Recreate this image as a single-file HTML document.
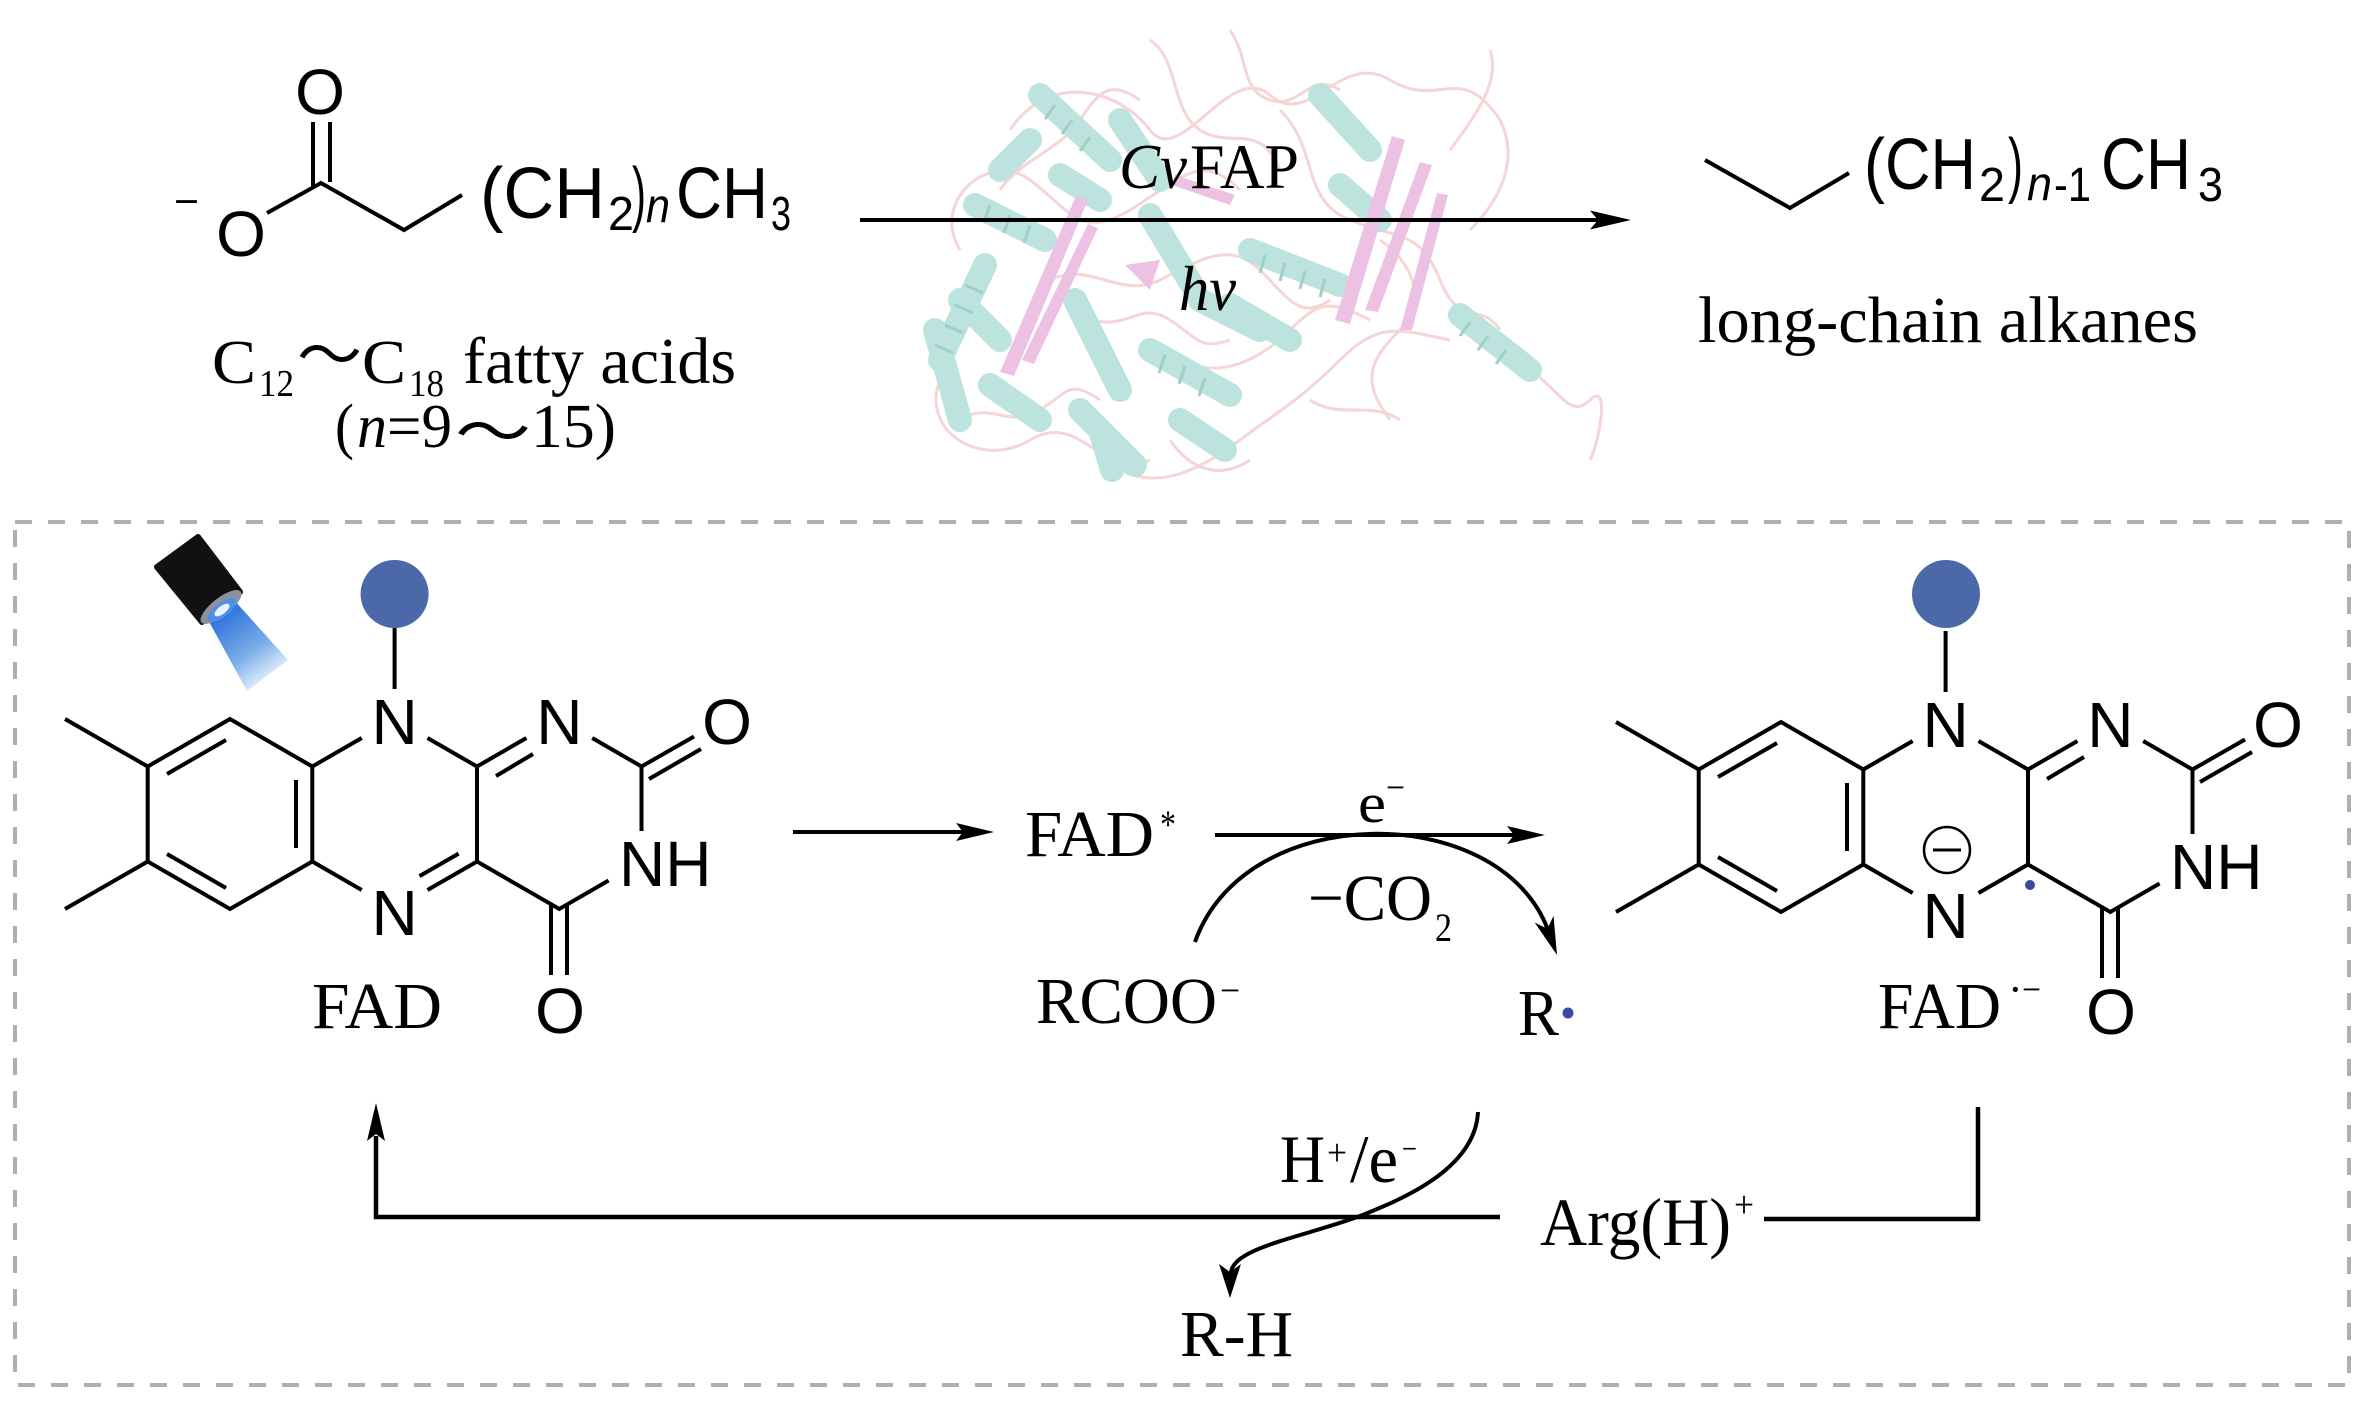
<!DOCTYPE html>
<html><head><meta charset="utf-8">
<style>
html,body{margin:0;padding:0;background:#fff;}
svg{display:block;}
.s{font-family:"Liberation Sans",Arial,sans-serif;}
.t{font-family:"Liberation Serif","Times New Roman",serif;}
.c{font-family:"Liberation Serif","Noto Sans CJK SC",serif;}
</style></head><body>
<svg width="2362" height="1401" viewBox="0 0 2362 1401" xmlns="http://www.w3.org/2000/svg">
<defs>
<linearGradient id="beam" gradientUnits="userSpaceOnUse" x1="220" y1="612" x2="268" y2="680">
<stop offset="0" stop-color="#2a6fd8"/>
<stop offset="0.6" stop-color="#79aee9"/>
<stop offset="1" stop-color="#e4f0fc"/>
</linearGradient>
</defs>
<rect width="2362" height="1401" fill="#fff"/>

<!-- protein cartoon -->
<g opacity="0.72">
<g fill="none" stroke="#f2c6c6" stroke-width="3">
<path d="M1010,130 C1050,70 1120,90 1150,130 S1230,60 1270,95 S1340,50 1390,80 S1460,60 1500,120"/>
<path d="M960,250 C930,200 990,150 1030,180 S1080,240 1130,210 S1200,150 1240,190"/>
<path d="M1150,40 C1180,60 1170,110 1200,130 S1260,120 1280,170"/>
<path d="M940,380 C920,430 980,470 1030,440 S1100,480 1150,460"/>
<path d="M1120,470 C1160,490 1200,470 1240,440 S1300,400 1340,360 S1400,330 1450,340"/>
<path d="M1280,110 C1320,150 1300,200 1350,220 S1420,230 1440,280 S1480,300 1500,330"/>
<path d="M1530,370 C1560,390 1570,420 1590,400 S1600,440 1590,460"/>
<path d="M1050,280 C1090,260 1120,300 1160,280 S1230,240 1260,270 S1300,320 1330,300"/>
<path d="M1000,190 C1020,160 1060,150 1080,120 S1110,80 1140,100"/>
<path d="M1180,360 C1220,380 1260,360 1290,330 S1330,300 1370,320"/>
<path d="M1450,150 C1480,110 1500,80 1490,50 M1500,120 C1520,160 1500,200 1470,230"/>
<path d="M1170,440 C1190,470 1220,480 1250,460"/>
<path d="M1230,30 C1250,60 1240,90 1270,100 S1310,70 1340,90"/>
<path d="M1380,240 C1410,260 1430,300 1400,330 S1360,380 1390,420"/>
<path d="M960,420 C990,400 1010,430 1040,410 S1070,380 1100,400"/>
<path d="M1090,320 C1130,330 1140,300 1170,320 S1200,350 1230,340"/>
<path d="M1310,400 C1340,420 1370,400 1400,420"/>
</g>
<g stroke="#a3d9d0" stroke-width="24" stroke-linecap="round" fill="none">
<path d="M940,360 L985,265"/>
<path d="M975,205 L1045,240"/>
<path d="M1040,95 L1110,160"/>
<path d="M1075,300 L1120,390"/>
<path d="M1080,410 L1135,465"/>
<path d="M1150,350 L1230,395"/>
<path d="M1180,420 L1225,450"/>
<path d="M1320,95 L1370,150"/>
<path d="M1250,250 L1340,285"/>
<path d="M1460,315 L1530,370"/>
<path d="M1150,215 L1195,290"/>
<path d="M1200,300 L1260,330"/>
<path d="M960,300 L1000,340"/>
<path d="M1000,170 L1030,140"/>
<path d="M935,330 L960,420"/>
<path d="M990,385 L1040,420"/>
<path d="M1230,305 L1290,340"/>
<path d="M1060,175 L1100,200"/>
<path d="M1120,120 L1160,180"/>
<path d="M1340,185 L1380,220"/>
<path d="M1100,430 L1112,470"/>
</g>
<g stroke="#79bfb4" stroke-width="3" fill="none">
<path d="M935,345 l18,8 M945,325 l18,8 M955,305 l18,8 M965,285 l18,8"/>
<path d="M990,205 l-6,18 M1010,215 l-6,18 M1030,225 l-6,18"/>
<path d="M1055,105 l-10,14 M1072,120 l-10,14 M1090,137 l-10,14"/>
<path d="M1165,355 l-6,18 M1185,366 l-6,18 M1205,378 l-6,18"/>
<path d="M1265,255 l-5,18 M1285,263 l-5,18 M1305,271 l-5,18 M1325,279 l-5,18"/>
<path d="M1470,322 l-10,14 M1488,336 l-10,14 M1506,350 l-10,14"/>
</g>
<g fill="#e6aada">
<polygon points="1000,372 1014,376 1088,200 1076,196"/>
<polygon points="1022,360 1034,364 1098,228 1088,224"/>
<polygon points="1335,320 1350,324 1405,140 1392,136"/>
<polygon points="1365,310 1378,312 1432,165 1420,162"/>
<polygon points="1400,330 1412,330 1448,195 1437,193"/>
<polygon points="1175,175 1235,195 1230,205 1172,185"/>
<polygon points="1125,265 1160,260 1150,290"/>
</g>
</g>

<!-- top reaction -->
<g stroke="#000" stroke-width="4" fill="none">
<path d="M313,122 L313,186 M330,122 L330,182 M267,213 L321,183 L404,230 L462,195"/>
<path d="M1705,160 L1790,208 L1849,173"/>
<path d="M860,220 L1600,220"/>
</g>
<polygon points="1631,220 1590,210.5 1598,220 1590,229.5" fill="#000"/>

<text class="s" x="320" y="114" font-size="64" text-anchor="middle">O</text>
<text class="s" x="241" y="256" font-size="64" text-anchor="middle">O</text>
<text class="s" x="174" y="215" font-size="40" textLength="25" lengthAdjust="spacingAndGlyphs">−</text>

<text class="s" x="480" y="218" font-size="72" textLength="125" lengthAdjust="spacingAndGlyphs">(CH</text>
<text class="s" x="608" y="230" font-size="48" textLength="26" lengthAdjust="spacingAndGlyphs">2</text>
<text class="s" x="632" y="218" font-size="72" textLength="14" lengthAdjust="spacingAndGlyphs">)</text>
<text class="s" x="646" y="222" font-size="48" font-style="italic" textLength="24" lengthAdjust="spacingAndGlyphs">n</text>
<text class="s" x="676" y="218" font-size="72" textLength="92" lengthAdjust="spacingAndGlyphs">CH</text>
<text class="s" x="771" y="230" font-size="48" textLength="20" lengthAdjust="spacingAndGlyphs">3</text>

<text class="s" x="1864" y="189" font-size="72" textLength="112" lengthAdjust="spacingAndGlyphs">(CH</text>
<text class="s" x="1979" y="201" font-size="48" textLength="26" lengthAdjust="spacingAndGlyphs">2</text>
<text class="s" x="2008" y="189" font-size="72" textLength="15" lengthAdjust="spacingAndGlyphs">)</text>
<text class="s" x="2027" y="200" font-size="48" font-style="italic" textLength="25" lengthAdjust="spacingAndGlyphs">n</text>
<text class="s" x="2054" y="201" font-size="48" textLength="37" lengthAdjust="spacingAndGlyphs">-1</text>
<text class="s" x="2101" y="189" font-size="72" textLength="90" lengthAdjust="spacingAndGlyphs">CH</text>
<text class="s" x="2198" y="201" font-size="48" textLength="25" lengthAdjust="spacingAndGlyphs">3</text>

<text class="t" x="212" y="383" font-size="62" textLength="44" lengthAdjust="spacingAndGlyphs">C</text>
<text class="t" x="259" y="396" font-size="38" textLength="35" lengthAdjust="spacingAndGlyphs">12</text>
<text class="c" x="297" y="377" font-size="62" textLength="65" lengthAdjust="spacingAndGlyphs">～</text>
<text class="t" x="362" y="383" font-size="62" textLength="44" lengthAdjust="spacingAndGlyphs">C</text>
<text class="t" x="409" y="396" font-size="38" textLength="35" lengthAdjust="spacingAndGlyphs">18</text>
<text class="t" x="463" y="383" font-size="66" textLength="273" lengthAdjust="spacingAndGlyphs">fatty acids</text>

<text class="t" x="335" y="447" font-size="62" textLength="19" lengthAdjust="spacingAndGlyphs">(</text>
<text class="t" x="357" y="447" font-size="62" font-style="italic" textLength="30" lengthAdjust="spacingAndGlyphs">n</text>
<text class="t" x="387" y="447" font-size="62" textLength="65" lengthAdjust="spacingAndGlyphs">=9</text>
<text class="c" x="455" y="454" font-size="62" textLength="76" lengthAdjust="spacingAndGlyphs">～</text>
<text class="t" x="531" y="447" font-size="62" textLength="85" lengthAdjust="spacingAndGlyphs">15)</text>

<text class="t" x="1119" y="188" font-size="64" font-style="italic" textLength="41" lengthAdjust="spacingAndGlyphs">C</text>
<text class="t" x="1160" y="188" font-size="64" font-style="italic" textLength="27" lengthAdjust="spacingAndGlyphs">v</text>
<text class="t" x="1190" y="188" font-size="64" textLength="109" lengthAdjust="spacingAndGlyphs">FAP</text>
<text class="t" x="1179" y="310" font-size="64" font-style="italic" textLength="57" lengthAdjust="spacingAndGlyphs">hv</text>
<text class="t" x="1698" y="342" font-size="66" textLength="500" lengthAdjust="spacingAndGlyphs">long-chain alkanes</text>

<!-- dashed box -->
<rect x="15" y="522" width="2334" height="863" fill="none" stroke="#b3adab" stroke-width="4" stroke-dasharray="17 16"/>

<!-- flashlight -->
<polygon points="207,618 234,600 288,660 247,691" fill="url(#beam)"/>
<polygon points="157,567 198,537 240,592 202,622" fill="#111" stroke="#111" stroke-width="6" stroke-linejoin="round"/>
<ellipse cx="221" cy="607" rx="25" ry="9" transform="rotate(-38 221 607)" fill="#8b929e"/>
<ellipse cx="222" cy="610" rx="17" ry="7" transform="rotate(-38 222 610)" fill="#4f8fe6"/>
<ellipse cx="222" cy="610" rx="9" ry="4" transform="rotate(-38 222 610)" fill="#e8f4ff"/>

<!-- blue circles -->
<circle cx="394.6" cy="594" r="34" fill="#4b69a8"/>
<circle cx="1946" cy="594" r="34" fill="#4b69a8"/>

<!-- left flavin -->
<g>
<path stroke="#000" stroke-width="4" fill="none" d="M65,719 L147.7,766.5 M65,909 L147.7,861.5 M230,719 L147.7,766.5 L147.7,861.5 L230,909 L312.3,861.5 L312.3,766.5 Z M226,740 L167,774 M167,854 L226,888 M296,780 L296,848 M312.3,766.5 L361.7,738 M427.5,738 L477,766.5 L477,861.5 M361.7,890 L312.3,861.5 M477,861.5 L427.5,890 M477,766.5 L526.4,738 M496,776 L533,754 M592.2,738 L641.5,766.5 L641.5,831 M608.6,880.5 L559.3,909 L477,861.5 M641.5,766.5 L694,736.5 M649,779 L701,749 M551,905 L551,975 M567,905 L567,975 M394.6,689 L394.6,628 M458.6,853.6 L419.5,876.1"/>
<g class="s" font-size="64" text-anchor="middle">
<text x="394.6" y="744">N</text>
<text x="394.6" y="935">N</text>
<text x="559.3" y="744">N</text>
<text x="727" y="744">O</text>
<text x="560" y="1033">O</text>
</g>
<text class="s" x="619" y="886" font-size="64">NH</text>
<text class="t" x="312" y="1028" font-size="66" textLength="130" lengthAdjust="spacingAndGlyphs">FAD</text>
</g>

<!-- right flavin -->
<g transform="translate(1551,3)">
<path stroke="#000" stroke-width="4" fill="none" d="M65,719 L147.7,766.5 M65,909 L147.7,861.5 M230,719 L147.7,766.5 L147.7,861.5 L230,909 L312.3,861.5 L312.3,766.5 Z M226,740 L167,774 M167,854 L226,888 M296,780 L296,848 M312.3,766.5 L361.7,738 M427.5,738 L477,766.5 L477,861.5 M361.7,890 L312.3,861.5 M477,861.5 L427.5,890 M477,766.5 L526.4,738 M496,776 L533,754 M592.2,738 L641.5,766.5 L641.5,831 M608.6,880.5 L559.3,909 L477,861.5 M641.5,766.5 L694,736.5 M649,779 L701,749 M551,905 L551,975 M567,905 L567,975 M394.6,689 L394.6,628"/>
<g class="s" font-size="64" text-anchor="middle">
<text x="394.6" y="744">N</text>
<text x="394.6" y="935">N</text>
<text x="559.3" y="744">N</text>
<text x="727" y="744">O</text>
<text x="560" y="1031">O</text>
</g>
<text class="s" x="619" y="886" font-size="64">NH</text>
</g>
<circle cx="1947" cy="850" r="23" fill="none" stroke="#000" stroke-width="2.5"/>
<path d="M1933,850 L1961,850" stroke="#000" stroke-width="3"/>
<circle cx="2030" cy="885" r="5" fill="#3c4a9e"/>
<text class="t" x="1878" y="1028" font-size="66" textLength="123" lengthAdjust="spacingAndGlyphs">FAD</text>
<text class="t" x="2008" y="1004" font-size="44">·</text>
<text class="t" x="2022" y="1002" font-size="38" textLength="19" lengthAdjust="spacingAndGlyphs">−</text>

<!-- middle mechanism -->
<g stroke="#000" stroke-width="4" fill="none">
<path d="M793,832 L965,832"/>
<path d="M1215,835 L1515,835"/>
<path d="M1195,942 C1245,800 1498,800 1547.5,928.7"/>
<path d="M1478,1112 C1475,1170 1400,1200 1360,1216 C1300,1238 1232,1248 1231,1273"/>
</g>
<g fill="#000">
<polygon points="994,832 956,823 963,832 956,841"/>
<polygon points="1545,835 1507,826 1514,835 1507,844"/>
<polygon points="1557,955 1553.5,915.8 1547.5,928.7 1534.7,922.6"/>
<polygon points="1230,1298 1219,1264 1230,1272 1241,1264"/>
<polygon points="376,1103 367,1141 376,1134 385,1141"/>
</g>
<g stroke="#000" stroke-width="4.5" fill="none">
<path d="M376,1136 L376,1217 L1500,1217"/>
<path d="M1764,1219 L1978,1219 L1978,1107"/>
</g>

<text class="t" x="1025" y="856" font-size="66" textLength="129" lengthAdjust="spacingAndGlyphs">FAD</text>
<text class="t" x="1160" y="838" font-size="40" textLength="16" lengthAdjust="spacingAndGlyphs">*</text>
<text class="t" x="1358" y="822" font-size="56" textLength="28" lengthAdjust="spacingAndGlyphs">e</text>
<text class="t" x="1386" y="800" font-size="38" textLength="19" lengthAdjust="spacingAndGlyphs">−</text>
<text class="t" x="1308" y="920" font-size="66" textLength="124" lengthAdjust="spacingAndGlyphs">−CO</text>
<text class="t" x="1435" y="941" font-size="40" textLength="17" lengthAdjust="spacingAndGlyphs">2</text>
<text class="t" x="1036" y="1023" font-size="66" textLength="181" lengthAdjust="spacingAndGlyphs">RCOO</text>
<text class="t" x="1220" y="1003" font-size="38" textLength="20" lengthAdjust="spacingAndGlyphs">−</text>
<text class="t" x="1518" y="1035" font-size="66" textLength="41" lengthAdjust="spacingAndGlyphs">R</text>
<circle cx="1568" cy="1013" r="5.5" fill="#3c4a9e"/>

<text class="t" x="1280" y="1182" font-size="68" textLength="45" lengthAdjust="spacingAndGlyphs">H</text>
<text class="t" x="1327" y="1165" font-size="38" textLength="20" lengthAdjust="spacingAndGlyphs">+</text>
<text class="t" x="1350" y="1182" font-size="68" textLength="48" lengthAdjust="spacingAndGlyphs">/e</text>
<text class="t" x="1402" y="1160" font-size="34" textLength="15" lengthAdjust="spacingAndGlyphs">−</text>
<text class="t" x="1540" y="1245" font-size="68" textLength="191" lengthAdjust="spacingAndGlyphs">Arg(H)</text>
<text class="t" x="1734" y="1217" font-size="38" textLength="20" lengthAdjust="spacingAndGlyphs">+</text>
<text class="t" x="1180" y="1356" font-size="66" textLength="113" lengthAdjust="spacingAndGlyphs">R-H</text>
</svg>
</body></html>
